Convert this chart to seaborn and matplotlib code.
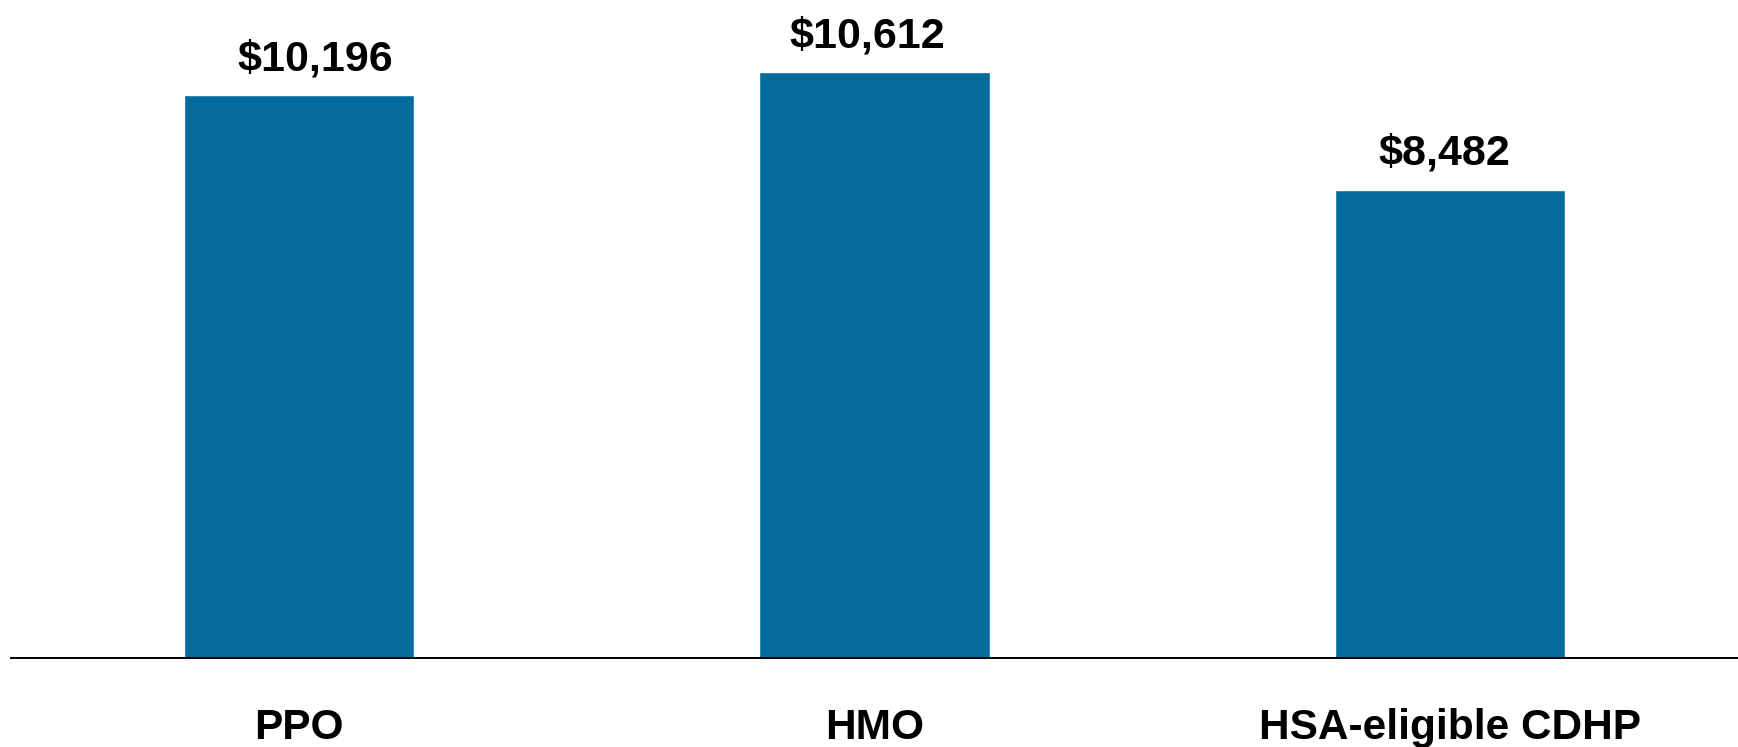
import matplotlib
matplotlib.use("Agg")
import matplotlib.pyplot as plt
import seaborn as sns
import pandas as pd

plans = ["PPO", "HMO", "HSA-eligible CDHP"]
premiums = [10196, 10612, 8482]
# horizontal nudge of each value label, in points
label_shift = [11.5, -5, -4.5]

sns.set_theme(style="white")
plt.rcParams["font.family"] = ["Liberation Sans", "DejaVu Sans"]

df = pd.DataFrame({"plan": plans, "premium": premiums})

W, H = 1738, 747
fig = plt.figure(figsize=(W / 100, H / 100), dpi=100)
base_y = 658
ax = fig.add_axes([11 / W, (H - base_y) / H, (W - 11) / W, base_y / H])

sns.barplot(data=df, x="plan", y="premium", color="#036c9c", saturation=1,
            width=0.4, ax=ax)

ax.set_xlim(-0.5, 2.5)
ax.set_ylim(0, base_y / 0.0552)

for patch, val, dx in zip(ax.patches, premiums, label_shift):
    cx = patch.get_x() + patch.get_width() / 2
    ax.annotate(f"${val:,.0f}", xy=(cx, patch.get_height()),
                xytext=(dx, 18), textcoords="offset points",
                ha="center", va="baseline", fontsize=31,
                fontweight="bold", color="black")

for s in ["top", "right", "left"]:
    ax.spines[s].set_visible(False)
ax.spines["bottom"].set_color("black")
ax.spines["bottom"].set_linewidth(1.4)
ax.set_yticks([])
ax.set_xlabel("")
ax.set_ylabel("")
ax.tick_params(axis="x", length=0, pad=36, labelsize=30.5)
for t in ax.get_xticklabels():
    t.set_fontweight("bold")
    t.set_color("black")

fig.savefig("out.png", dpi=100, facecolor="white")
